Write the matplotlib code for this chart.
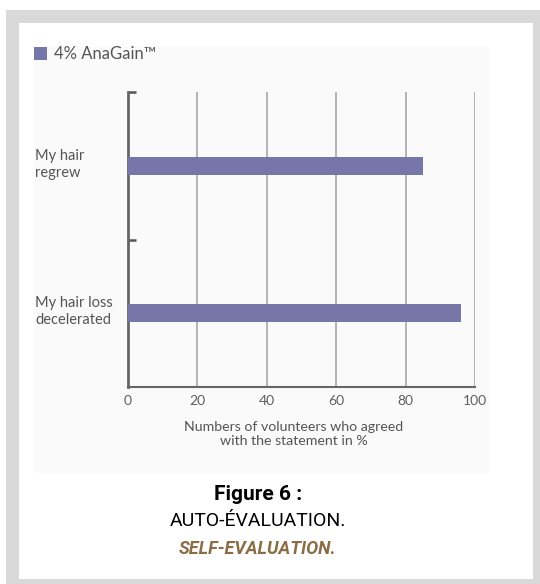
import matplotlib
matplotlib.use("Agg")
import matplotlib.pyplot as plt
from matplotlib.patches import Rectangle

# Données
categories = ["My hair\nregrew", "My hair loss\ndecelerated"]
values = [85, 96]
xticks = [0, 20, 40, 60, 80, 100]
legend_label = "4% AnaGain™"
xlabel = "Numbers of volunteers who agreed\nwith the statement in %"

bar_color = "#7676a8"
text_color = "#555555"

W, H = 540, 584
fig = plt.figure(figsize=(W / 100, H / 100), dpi=100)
fig.patch.set_facecolor("white")

# Cadre gris et panneau du graphique (coordonnées en pixels)
def px_rect(x0, y0, x1, y1, color, z=0):
    fig.patches.append(Rectangle((x0 / W, 1 - y1 / H), (x1 - x0) / W, (y1 - y0) / H,
                                 transform=fig.transFigure, facecolor=color,
                                 edgecolor="none", zorder=z))

px_rect(6, 10, W + 5, H + 5, "#d9d9d9", -3)
px_rect(19, 23, 533, 579, "white", -2)
px_rect(34, 47, 489, 473, "#fafafa", -1)

ax = fig.add_axes([128 / W, 1 - 387 / H, (475 - 128) / W, (387 - 92) / H])
ax.set_facecolor("none")

ypos = [0.5, 1.5]
ax.barh(ypos, values, height=0.12, color=bar_color, zorder=3)
ax.set_xlim(0, 100)
ax.set_ylim(2, 0)

# Grille verticale
for v in xticks[1:]:
    ax.axvline(v, color="#a8a8a8", lw=1.2, zorder=1)

for s in ["top", "right"]:
    ax.spines[s].set_visible(False)
ax.spines["left"].set_color("#666666")
ax.spines["left"].set_linewidth(2)
ax.spines["bottom"].set_color("#666666")
ax.spines["bottom"].set_linewidth(1.5)

ax.set_xticks(xticks)
ax.set_xticklabels([str(v) for v in xticks], fontsize=10, color="#606060",
                   family="Lato")
ax.tick_params(axis="x", length=0, pad=6)

ax.set_yticks([0, 1])
ax.set_yticklabels([])
ax.tick_params(axis="y", direction="in", length=6, width=1.8, color="#555555")

ax.set_xlabel(xlabel, fontsize=10.2, color=text_color, family="Lato",
              linespacing=1.2)
ax.xaxis.set_label_coords(0.478, -0.115)

# Libellés des catégories, alignés à gauche
for y, label in zip(ypos, categories):
    ax.text(-93 / 3.47, y - 0.01, label, ha="left", va="center", fontsize=10.5,
            color=text_color, family="Lato", linespacing=1.3)

# Légende
px_rect(34, 47, 47, 60, bar_color, 1)
fig.text(54 / W, 1 - 54 / H, legend_label, ha="left", va="center", fontsize=12,
         color=text_color, family="Lato")

# Légende de la figure
cond = ["Roboto", "DejaVu Sans"]
fig.text(258 / W, 1 - 494 / H, "Figure 6 :", ha="center", va="center",
         fontsize=15, fontweight="bold", color="black", family=cond)
fig.text(258 / W, 1 - 521 / H, "AUTO-ÉVALUATION.", ha="center", va="center",
         fontsize=14, color="black", family=cond)
fig.text(258 / W, 1 - 549 / H, "SELF-EVALUATION.", ha="center", va="center",
         fontsize=13, style="italic", fontweight="bold", color="#8b6d45",
         family=cond)

fig.savefig("out.png", dpi=100)
